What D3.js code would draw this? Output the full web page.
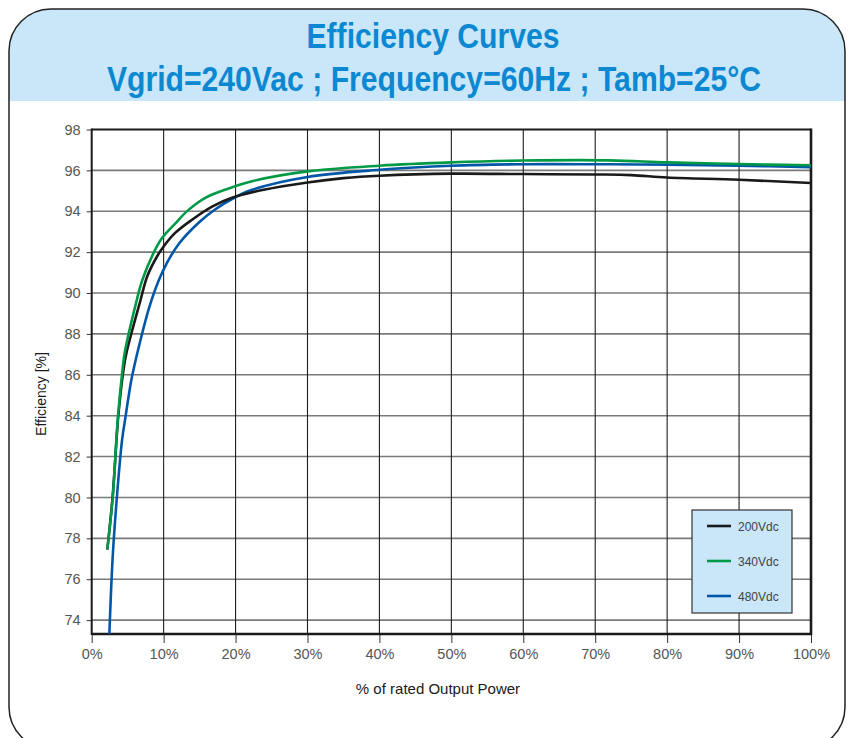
<!DOCTYPE html>
<html><head><meta charset="utf-8">
<script src="https://cdn.jsdelivr.net/npm/d3@7"></script>
<style>body{margin:0;background:#fff}svg{display:block}</style>
</head><body>
<svg id="c" width="853" height="738"></svg>
<script>
const xTicks = [0,10,20,30,40,50,60,70,80,90,100];
const yTicks = [74,76,78,80,82,84,86,88,90,92,94,96,98];
const seriesNames = ["200Vdc","340Vdc","480Vdc"];
const seriesColors = ["#1a1a1a","#009a47","#0057a8"];
const load200 = [2.17,2.9,3.7,4.4,4.85,6.8,7.7,9.1,10.0,11.6,14.0,16.8,19.5,23.9,30,35,40,50,60,70,75,80,90,100];
const eff200  = [77.45,80.0,84.0,86.2,87.1,89.67,90.8,91.8,92.28,92.94,93.6,94.24,94.66,95.05,95.41,95.62,95.74,95.84,95.82,95.8,95.77,95.65,95.54,95.38];
const load340 = [2.17,2.92,3.66,4.3,4.6,6.3,7.0,8.6,9.8,11.6,13.5,15.8,18.6,22.3,30,40,50,60,72,80,90,100];
const eff340  = [77.46,80.0,84.0,86.3,87.1,89.7,90.6,91.96,92.7,93.4,94.08,94.66,95.06,95.47,95.95,96.23,96.39,96.48,96.49,96.39,96.31,96.25];
const load480 = [2.4,2.92,3.5,4.22,4.68,5.6,7.0,8.0,9.3,10.5,12.1,14.9,17.2,19.5,22.3,30,40,50,60,70,80,90,100];
const eff480  = [72.8,77.1,80.0,82.8,83.9,85.9,88.0,89.3,90.6,91.5,92.4,93.45,94.1,94.6,95.05,95.68,96.03,96.23,96.3,96.3,96.28,96.23,96.15];
const titleLines = ["Efficiency Curves","Vgrid=240Vac ; Frequency=60Hz ; Tamb=25°C"];
const xLabel = "% of rated Output Power";
const yLabel = "Efficiency [%]";

const svg = d3.select("#c");
const font = "'Liberation Sans', Arial, Helvetica, sans-serif";

// frame
const defs = svg.append("defs");
defs.append("clipPath").attr("id","frameClip").append("rect")
  .attr("x",9).attr("y",9).attr("width",836).attr("height",740).attr("rx",42).attr("ry",42);
svg.append("rect").attr("x",9).attr("y",9).attr("width",836).attr("height",740).attr("rx",42).attr("ry",42)
  .attr("fill","#fff");
svg.append("rect").attr("x",0).attr("y",0).attr("width",853).attr("height",101)
  .attr("fill","#c9e7f8").attr("clip-path","url(#frameClip)");
svg.append("rect").attr("x",9).attr("y",9).attr("width",836).attr("height",740).attr("rx",42).attr("ry",42)
  .attr("fill","none").attr("stroke","#222").attr("stroke-width",1.5);

// title (horizontally condensed to mimic a narrow bold face)
svg.append("text").attr("transform","translate(433,48) scale(0.862,1)").attr("text-anchor","middle")
  .attr("font-family",font).attr("font-weight","bold")
  .attr("font-size",35).attr("fill","#0b88d1").text(titleLines[0]);
svg.append("text").attr("transform","translate(434,91) scale(0.862,1)").attr("text-anchor","middle")
  .attr("font-family",font).attr("font-weight","bold")
  .attr("font-size",35).attr("fill","#0b88d1").text(titleLines[1]);

const x = d3.scaleLinear().domain([0,100]).range([91.7,811]);
const y = d3.scaleLinear().domain([73.32,98]).range([634,129.5]);

defs.append("clipPath").attr("id","plotClip").append("rect")
  .attr("x",x(0)).attr("y",y(98)).attr("width",x(100)-x(0)).attr("height",y(73.32)-y(98));

// horizontal grid
svg.append("g").selectAll("line").data(yTicks.filter(d=>d<98)).join("line")
  .attr("x1",x(0)).attr("x2",x(100)).attr("y1",d=>y(d)).attr("y2",d=>y(d))
  .attr("stroke","#7a7a7a").attr("stroke-width",1.6);
// vertical grid
svg.append("g").selectAll("line").data(xTicks.filter(d=>d>0&&d<100)).join("line")
  .attr("x1",d=>x(d)).attr("x2",d=>x(d)).attr("y1",y(98)).attr("y2",y(73.32))
  .attr("stroke","#1e1e1e").attr("stroke-width",1.1);

// axes
const xAxis = d3.axisBottom(x).tickValues(xTicks).tickFormat(d=>d+"%").tickSize(9).tickPadding(6);
const gx = svg.append("g").attr("transform",`translate(0,${y(73.32)})`).call(xAxis);
gx.select(".domain").remove();
gx.selectAll(".tick line").attr("stroke","#333").attr("stroke-width",1);
gx.selectAll(".tick text").attr("font-family",font).attr("font-size",14.5).attr("fill","#555");

const yAxis = d3.axisLeft(y).tickValues(yTicks).tickSize(5).tickPadding(6);
const gy = svg.append("g").attr("transform",`translate(${x(0)},0)`).call(yAxis);
gy.select(".domain").remove();
gy.selectAll(".tick line").attr("stroke","#333").attr("stroke-width",1);
gy.selectAll(".tick text").attr("font-family",font).attr("font-size",14.5).attr("fill","#555");

// plot border
svg.append("line").attr("x1",x(0)).attr("x2",x(100)).attr("y1",y(98)).attr("y2",y(98)).attr("stroke","#1a1a1a").attr("stroke-width",2.2);
svg.append("line").attr("x1",x(0)).attr("x2",x(100)+1).attr("y1",y(73.32)).attr("y2",y(73.32)).attr("stroke","#1a1a1a").attr("stroke-width",2.6);
svg.append("line").attr("x1",x(0)).attr("x2",x(0)).attr("y1",y(98)-1).attr("y2",y(73.32)+1).attr("stroke","#1a1a1a").attr("stroke-width",2);
svg.append("line").attr("x1",x(100)).attr("x2",x(100)).attr("y1",y(98)-1).attr("y2",y(73.32)+1).attr("stroke","#1a1a1a").attr("stroke-width",2.6);

// curves
const series = [
  {name:seriesNames[0], color:seriesColors[0], pts:d3.zip(load200,eff200)},
  {name:seriesNames[1], color:seriesColors[1], pts:d3.zip(load340,eff340)},
  {name:seriesNames[2], color:seriesColors[2], pts:d3.zip(load480,eff480)}
];
const line = d3.line().x(d=>x(d[0])).y(d=>y(d[1])).curve(d3.curveCatmullRom.alpha(0.5));
const order = [2,0,1];
svg.append("g").attr("clip-path","url(#plotClip)").selectAll("path").data(order.map(i=>series[i])).join("path")
  .attr("d",d=>line(d.pts)).attr("fill","none").attr("stroke",d=>d.color).attr("stroke-width",2.6)
  .attr("stroke-linejoin","round");

// legend
const lg = svg.append("g");
lg.append("rect").attr("x",692).attr("y",510).attr("width",100).attr("height",103)
  .attr("fill","#c9e7f8").attr("stroke","#333").attr("stroke-width",1.2);
series.forEach((s,i)=>{
  const ly = 526 + i*35;
  lg.append("line").attr("x1",707).attr("x2",731).attr("y1",ly).attr("y2",ly).attr("stroke",s.color).attr("stroke-width",2.6);
  lg.append("text").attr("x",738).attr("y",ly+4.5).attr("font-family",font).attr("font-size",12).attr("fill","#444").text(s.name);
});

// axis labels
svg.append("text").attr("x",438).attr("y",694).attr("text-anchor","middle").attr("font-family",font)
  .attr("font-size",15).attr("fill","#1a1a1a").text(xLabel);
svg.append("text").attr("transform","translate(46,394) rotate(-90)").attr("text-anchor","middle").attr("font-family",font)
  .attr("font-size",14).attr("fill","#1a1a1a").text(yLabel);
</script>
</body></html>
